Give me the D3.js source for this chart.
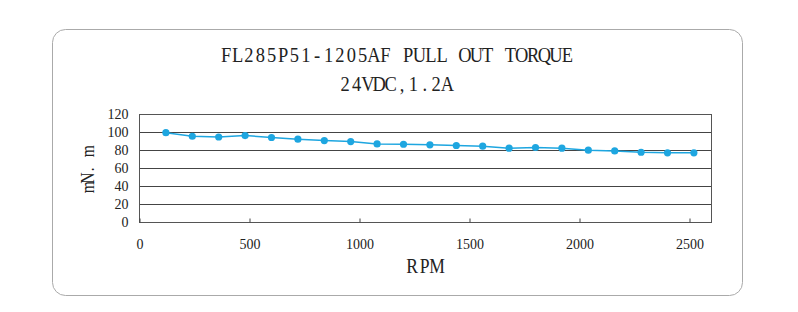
<!DOCTYPE html>
<html>
<head>
<meta charset="utf-8">
<script src="https://cdn.jsdelivr.net/npm/d3@7"></script>
<style>
  body { margin: 0; background: #fff; }
  svg { display: block; }
  text { font-family: "Liberation Serif", "DejaVu Serif", serif; fill: #222; }
</style>
</head>
<body>
<svg id="chart" width="798" height="312"></svg>
<script>
// chart data
const rpm = [120, 240, 360, 480, 600, 720, 840, 960, 1080, 1200, 1320,
             1440, 1560, 1680, 1800, 1920, 2040, 2160, 2280, 2400, 2520];
const torque = [99.2, 95.2, 94.4, 96.0, 93.8, 91.9, 90.4, 89.3, 86.7, 86.3, 85.6,
                84.9, 84.1, 81.9, 82.7, 81.9, 79.7, 78.9, 77.4, 76.7, 76.7];
const xTicks = [0, 500, 1000, 1500, 2000, 2500];
const yTicks = [0, 20, 40, 60, 80, 100, 120];
const titleLines = ["FL285P51-1205AF PULL OUT TORQUE", "24VDC,1.2A"];

const svg = d3.select("#chart");

// half-width "fixed cell" text with narrow glyphs, like the original CJK font
function cellText(parent, str, x0, y, cell, size, sx) {
    const xs = Array.from(str).map((c, i) => ((x0 + cell * (i + 0.5)) / sx).toFixed(2));
    return parent.append("text")
        .attr("transform", `scale(${sx},1)`)
        .attr("x", xs.join(" "))
        .attr("y", y)
        .attr("text-anchor", "middle")
        .style("font-size", size + "px")
        .text(str);
}

// outer rounded frame
svg.append("rect")
    .attr("x", 52.5).attr("y", 29.5)
    .attr("width", 690).attr("height", 266)
    .attr("rx", 13).attr("ry", 13)
    .attr("fill", "none")
    .attr("stroke", "#aaa")
    .attr("stroke-width", 1);

const plot = { left: 139.5, right: 711.5, top: 114, bottom: 221.7 };

const xScale = d3.scaleLinear()
    .domain([0, 2600])
    .range([plot.left, plot.right]);
const yScale = d3.scaleLinear()
    .domain([0, 120])
    .range([plot.bottom, plot.top]);

// gridlines
svg.append("g")
    .selectAll("line")
    .data(yTicks)
    .enter()
    .append("line")
    .attr("x1", plot.left).attr("x2", plot.right)
    .attr("y1", d => Math.round(yScale(d)) + 0.5)
    .attr("y2", d => Math.round(yScale(d)) + 0.5)
    .attr("stroke", "#444")
    .attr("stroke-width", 1);

// plot border
svg.append("rect")
    .attr("x", plot.left).attr("y", Math.round(plot.top) + 0.5)
    .attr("width", plot.right - plot.left)
    .attr("height", Math.round(plot.bottom) - Math.round(plot.top))
    .attr("fill", "none")
    .attr("stroke", "#555")
    .attr("stroke-width", 1);

// x axis (inward ticks, labels below)
const xAxis = d3.axisBottom(xScale)
    .tickValues(xTicks)
    .tickSize(-4)
    .tickPadding(17)
    .tickFormat(d3.format("d"));
const gx = svg.append("g")
    .attr("transform", `translate(0,${Math.round(plot.bottom) + 0.5})`)
    .call(xAxis);
gx.select(".domain").remove();
gx.selectAll(".tick line").attr("stroke", "#444");
gx.selectAll("text")
    .style("font-family", '"Liberation Serif", serif')
    .style("font-size", "14px")
    .attr("fill", "#333");

// y axis labels
const yAxis = d3.axisLeft(yScale)
    .tickValues(yTicks)
    .tickSize(0)
    .tickPadding(11);
const gy = svg.append("g")
    .attr("transform", `translate(${plot.left},0)`)
    .call(yAxis);
gy.select(".domain").remove();
gy.selectAll("text")
    .style("font-family", '"Liberation Serif", serif')
    .style("font-size", "14px")
    .attr("fill", "#333");

// line and markers
const line = d3.line()
    .x((d, i) => xScale(rpm[i]))
    .y(d => yScale(d));

svg.append("path")
    .datum(torque)
    .attr("fill", "none")
    .attr("stroke", "#1ea6e0")
    .attr("stroke-width", 1.5)
    .attr("d", line);

svg.append("g")
    .selectAll("circle")
    .data(torque)
    .enter()
    .append("circle")
    .attr("cx", (d, i) => xScale(rpm[i]))
    .attr("cy", d => yScale(d))
    .attr("r", 3.6)
    .attr("fill", "#1ea6e0");

// titles
cellText(svg, titleLines[0], 220.5, 62, 11.37, 22, 0.84);
cellText(svg, titleLines[1], 339.5, 91.3, 11.37, 22, 0.84);

// axis titles
cellText(svg, "RPM", 406, 273.3, 12.4, 22, 0.8);

const yTitle = svg.append("g")
    .attr("transform", "translate(94,191.7) rotate(-90)");
cellText(yTitle, "mN. m", 0, 0, 9, 19, 0.82);
</script>
</body>
</html>
